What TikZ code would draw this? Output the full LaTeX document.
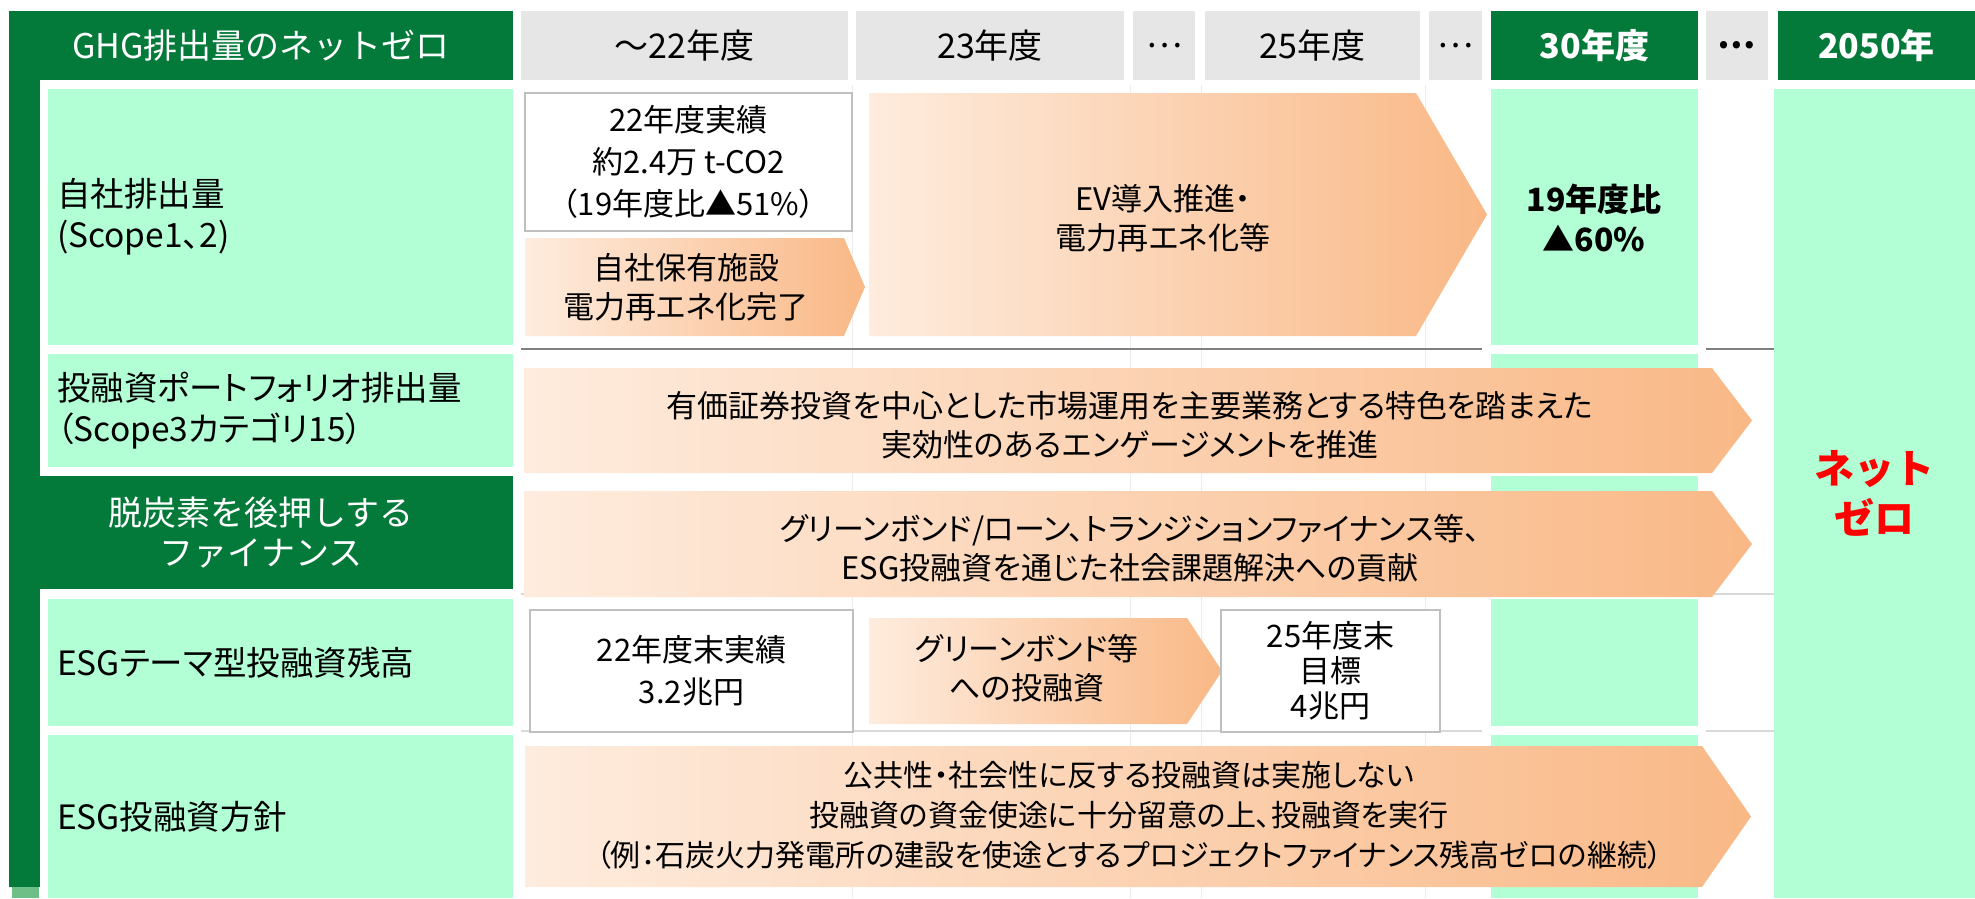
\documentclass[tikz,border=0pt]{standalone}
\usepackage{fontspec}
\setmainfont{Noto Sans CJK JP}[RawFeature=+palt]
\newfontfamily\jpfull{Noto Sans CJK JP}
\definecolor{dgreen}{RGB}{4,122,58}
\definecolor{lgreen}{RGB}{179,255,213}
\definecolor{hgray}{RGB}{230,230,230}
\definecolor{peachL}{RGB}{254,236,222}
\definecolor{peachR}{RGB}{249,184,134}
\definecolor{boxgray}{RGB}{191,191,191}
\definecolor{stripgreen}{RGB}{110,190,135}
\definecolor{gridgray}{RGB}{236,236,236}
\definecolor{rulegray}{RGB}{128,128,128}
\definecolor{lrule}{RGB}{217,217,217}
\newcommand{\chev}[5]{\shade[left color=peachL,right color=peachR] (#1,#2) -- (#3,#2) -- (#4,{(#2+#5)/2}) -- (#3,#5) -- (#1,#5) -- cycle;}
\begin{document}
\begin{tikzpicture}[x=1pt,y=-1pt,
  txt/.style={font=\fontsize{31}{39}\selectfont, align=center, inner sep=0pt},
  hdr/.style={fill=hgray, inner sep=0pt, font=\jpfull\fontsize{34}{39}\selectfont},
  ghdr/.style={fill=dgreen, text=white, inner sep=0pt, font=\jpfull\fontsize{34}{39}\selectfont\bfseries},
  lab/.style={fill=lgreen, inner xsep=9pt, inner ysep=0pt, text width=447pt, align=left, font=\fontsize{33.5}{41}\selectfont},
  wbox/.style={fill=white, draw=boxgray, line width=2pt, inner sep=0pt, align=center, font=\fontsize{31}{42}\selectfont}]
\useasboundingbox (0,0) rectangle (1975,898);
\fill[white] (0,0) rectangle (1975,898);
% faint grid
\foreach \gx in {852,1130,1201,1425} \draw[gridgray, line width=1pt] (\gx,85) -- (\gx,898);
\draw[rulegray, line width=2pt] (521,349) -- (1482,349) (1706,349) -- (1774,349);
\draw[lrule, line width=1.5pt] (521,594) -- (1482,594) (1706,594) -- (1774,594);
\draw[lrule, line width=1.5pt] (521,731) -- (1482,731) (1706,731) -- (1774,731);
% left frame
\fill[dgreen] (9,11) rectangle (513,80);
\fill[dgreen] (9,11) rectangle (40,887);
\fill[stripgreen] (12,887) rectangle (39,898);
\node[inner sep=0pt, text=white, font=\jpfull\fontsize{34}{39}\selectfont] (ghg) at (261,45.5) {GHG排出量のネットゼロ};
% headers
\node[hdr, minimum width=327pt, minimum height=69pt] (h1) at (684.5,45.5) {～22年度};
\node[hdr, minimum width=268pt, minimum height=69pt] (h2) at (990,45.5) {23年度};
\node[hdr, minimum width=62pt, minimum height=69pt] (h3) at (1164,45.5) {…};
\node[hdr, minimum width=215pt, minimum height=69pt] (h4) at (1312.5,45.5) {25年度};
\node[hdr, minimum width=53pt, minimum height=69pt] (h5) at (1455.5,45.5) {…};
\node[ghdr, minimum width=207pt, minimum height=69pt] (h6) at (1594.5,45.5) {30年度};
\node[hdr, minimum width=62pt, minimum height=69pt, font=\jpfull\fontsize{34}{39}\selectfont\bfseries] (h7) at (1737,45.5) {…};
\node[ghdr, minimum width=197pt, minimum height=69pt] (h8) at (1876.5,45.5) {2050年};
% 30 column and 2050 column
\fill[lgreen] (1491,89) rectangle (1698,345);
\fill[lgreen] (1491,354) rectangle (1698,467);
\fill[lgreen] (1491,476) rectangle (1698,589);
\fill[lgreen] (1491,599) rectangle (1698,726);
\fill[lgreen] (1491,735) rectangle (1698,898);
\fill[lgreen] (1774,89) rectangle (1975,898);
% row labels
\node[lab, minimum height=256pt] (l1) at (280.5,217) {自社排出量\\(Scope1、2)};
\node[lab, minimum height=113pt] (l2) at (280.5,410.5) {投融資ポートフォリオ排出量\\（Scope3カテゴリ15）};
\fill[dgreen] (40,476) rectangle (513,589);
\node[txt, text=white, font=\jpfull\fontsize{34}{40}\selectfont] (l3) at (261,533) {脱炭素を後押しする\\ファイナンス};
\node[lab, minimum height=127pt] (l4) at (280.5,662.5) {ESGテーマ型投融資残高};
\node[lab, minimum height=163pt] (l5) at (280.5,816.5) {ESG投融資方針};
% row 1
\node[wbox, minimum width=327pt, minimum height=138pt] (b1) at (688.5,162) {22年度実績\\約2.4万 t-CO2\\（19年度比▲51\%）};
\chev{525}{238}{844}{865}{336}
\node[txt] (a1) at (686,287) {自社保有施設\\電力再エネ化完了};
\chev{869}{93}{1416}{1487}{336}
\node[txt] (a2) at (1163,218) {EV導入推進・\\電力再エネ化等};
\node[txt, font=\fontsize{32}{40}\selectfont\bfseries] (t30) at (1594,218) {19年度比\\▲60\%};
% row 2
\chev{524}{368}{1712}{1752}{473}
\node[txt] (a3) at (1130,425) {有価証券投資を中心とした市場運用を主要業務とする特色を踏まえた\\実効性のあるエンゲージメントを推進};
% row 3
\chev{524}{491}{1712}{1752}{597}
\node[txt] (a4) at (1130,548) {グリーンボンド/ローン、トランジションファイナンス等、\\ESG投融資を通じた社会課題解決への貢献};
% row 4
\node[wbox, minimum width=323pt, minimum height=122pt] (b2) at (691.5,671) {22年度末実績\\3.2兆円};
\chev{869}{618}{1187}{1222}{724}
\node[txt] (a5) at (1027,668) {グリーンボンド等\\への投融資};
\node[wbox, minimum width=219pt, minimum height=122pt, font=\fontsize{31}{35}\selectfont] (b3) at (1330.5,671) {25年度末\\目標\\4兆円};
% row 5
\chev{525}{746}{1702}{1751}{887}
\node[txt, font=\fontsize{30}{40}\selectfont] (a6) at (1129,815) {公共性・社会性に反する投融資は実施しない\\投融資の資金使途に十分留意の上、投融資を実行\\（例：石炭火力発電所の建設を使途とするプロジェクトファイナンス残高ゼロの継続）};
% net zero
\node[txt, text=red, font=\jpfull\fontsize{40}{50}\selectfont\bfseries] (nz) at (1874,493) {ネット\\ゼロ};
\end{tikzpicture}
\end{document}
